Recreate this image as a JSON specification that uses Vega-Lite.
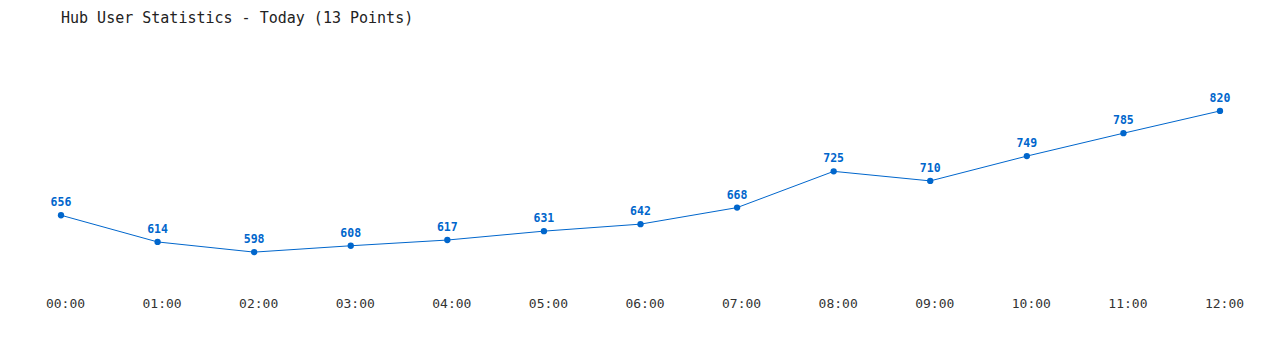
{
  "$schema": "https://vega.github.io/schema/vega-lite/v6.json",
  "autosize": "none",
  "width": 1159,
  "height": 248,
  "padding": {"left": 61, "top": 41, "right": 60, "bottom": 61},
  "background": "white",
  "title": {
    "text": "Hub User Statistics - Today (13 Points)",
    "anchor": "start",
    "frame": "group",
    "font": "DejaVu Sans Mono",
    "fontSize": 15,
    "fontWeight": "normal",
    "color": "#222222",
    "offset": 15
  },
  "data": {
    "values": [
      {"time": "00:00", "users": 656},
      {"time": "01:00", "users": 614},
      {"time": "02:00", "users": 598},
      {"time": "03:00", "users": 608},
      {"time": "04:00", "users": 617},
      {"time": "05:00", "users": 631},
      {"time": "06:00", "users": 642},
      {"time": "07:00", "users": 668},
      {"time": "08:00", "users": 725},
      {"time": "09:00", "users": 710},
      {"time": "10:00", "users": 749},
      {"time": "11:00", "users": 785},
      {"time": "12:00", "users": 820}
    ]
  },
  "encoding": {
    "x": {
      "field": "time",
      "type": "ordinal",
      "scale": {"type": "point", "padding": 0},
      "axis": {
        "title": null,
        "labelAngle": 0,
        "ticks": false,
        "domain": false,
        "grid": false,
        "labelFont": "DejaVu Sans Mono",
        "labelFontSize": 13,
        "labelColor": "#333333",
        "labelPadding": 8,
        "labelOffset": 4
      }
    },
    "y": {
      "field": "users",
      "type": "quantitative",
      "scale": {"domain": [540, 930], "nice": false, "zero": false},
      "axis": null
    }
  },
  "layer": [
    {"mark": {"type": "line", "color": "#0066cc", "strokeWidth": 1}},
    {"mark": {"type": "point", "filled": true, "color": "#0066cc", "size": 40, "opacity": 1}},
    {
      "mark": {"type": "text", "dy": -12, "font": "DejaVu Sans Mono", "fontSize": 11.5, "fontWeight": "bold", "color": "#0066cc"},
      "encoding": {"text": {"field": "users", "type": "quantitative"}}
    }
  ],
  "config": {"view": {"stroke": null}}
}
